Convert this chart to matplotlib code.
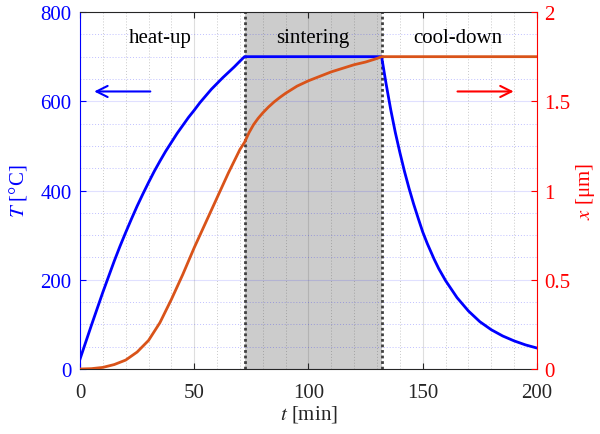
import matplotlib
matplotlib.use("Agg")
import matplotlib.pyplot as plt
from matplotlib.ticker import MultipleLocator

# ---- data ----
t_temp = [0, 2.5, 5, 7.5, 10, 12.5, 15, 17.5, 20, 22.5, 25, 27.5, 30, 32.5, 35, 37.5, 40,
          42.5, 45, 47.5, 50, 52.5, 55, 57.5, 60, 62.5, 65, 67.5, 70, 72,
          132, 134, 136, 138, 140, 142, 144, 146, 148, 150, 152, 155, 157, 160, 165,
          170, 175, 180, 185, 190, 195, 200]
temp = [22, 60, 98, 135, 172, 207, 242, 275, 306, 336, 365, 392, 418, 443, 466, 488, 508,
        528, 546, 564, 580, 597, 612, 627, 640, 653, 665, 677, 690, 700,
        700, 638, 581, 530, 485, 443, 405, 370, 338, 307, 281, 246, 225, 198, 160,
        130, 106, 88, 74, 63, 54, 47]

t_size = [0, 5, 10, 15, 20, 25, 30, 35, 40, 45, 50, 55, 60, 65, 70, 72,
          74, 76, 78, 80, 82.5, 85, 87.5, 90, 95, 100, 105, 110, 115, 120, 125, 130, 132, 200]
size = [0, 0.002, 0.009, 0.025, 0.05, 0.095, 0.16, 0.26, 0.39, 0.53, 0.68, 0.82, 0.96,
        1.10, 1.23, 1.27,
        1.325, 1.37, 1.405, 1.435, 1.468, 1.497, 1.522, 1.545, 1.585, 1.615, 1.64, 1.665,
        1.685, 1.705, 1.72, 1.74, 1.75, 1.75]

phase_bounds = [72, 132]
phase_labels = ["heat-up", "sintering", "cool-down"]
phase_label_t = [35, 102, 165.5]

x_ticks = [0, 50, 100, 150, 200]
T_ticks = [0, 200, 400, 600, 800]
s_ticks = [0, 0.5, 1, 1.5, 2]
s_ticklabels = ["0", "0.5", "1", "1.5", "2"]

# ---- style ----
plt.rcParams["font.family"] = ["Liberation Serif", "DejaVu Serif"]
plt.rcParams["mathtext.fontset"] = "stix"
plt.rcParams["font.size"] = 15

BLUE = (0, 0, 1)
RED = (1, 0, 0)
ORANGE = (0.85, 0.325, 0.098)
DARK = (0.15, 0.15, 0.15)

fig = plt.figure(figsize=(6.0, 4.35), dpi=100)
ax1 = fig.add_axes([0.1333, 0.1494, 0.7617, 0.8206])
ax2 = ax1.twinx()

# shaded sintering phase and dotted boundaries
ax1.axvspan(phase_bounds[0], phase_bounds[1], color=(0.8, 0.8, 0.8), zorder=0.5, lw=0)
for b in phase_bounds:
    ax1.axvline(b, color=(0.25, 0.25, 0.25), ls=(0, (1, 1)), lw=2.0, zorder=1)

ax1.plot(t_temp, temp, color=BLUE, lw=2.0, zorder=3)
ax2.plot(t_size, size, color=ORANGE, lw=2.0, zorder=3)

ax1.set_xlim(0, 200)
ax1.set_ylim(0, 800)
ax2.set_ylim(0, 2)

ax1.set_xticks(x_ticks)
ax1.set_yticks(T_ticks)
ax2.set_yticks(s_ticks)
ax2.set_yticklabels(s_ticklabels)
ax1.xaxis.set_minor_locator(MultipleLocator(10))
ax1.yaxis.set_minor_locator(MultipleLocator(50))

# grids
ax1.set_axisbelow(True)
ax1.grid(which="major", axis="x", color=(0.15, 0.15, 0.15), alpha=0.15, lw=0.8)
ax1.grid(which="major", axis="y", color=BLUE, alpha=0.12, lw=0.8)
ax1.grid(which="minor", axis="x", color=(0.15, 0.15, 0.15), alpha=0.25, lw=0.7, ls=(0, (1, 2)))
ax1.grid(which="minor", axis="y", color=BLUE, alpha=0.25, lw=0.7, ls=(0, (1, 2)))

# ticks
ax1.tick_params(axis="x", which="major", direction="in", length=4, colors=DARK, top=True,
                labelsize=15, pad=10)
ax1.tick_params(axis="y", which="major", direction="in", length=4, colors=BLUE, labelsize=15,
                pad=6)
ax1.tick_params(which="minor", length=0, top=False)
ax2.tick_params(axis="y", which="major", direction="in", length=4, colors=RED, labelsize=15,
                pad=5)

for sp in ["top", "bottom"]:
    ax1.spines[sp].set_color(DARK)
    ax2.spines[sp].set_visible(False)
ax1.spines["left"].set_color(BLUE)
ax2.spines["left"].set_visible(False)
ax2.spines["right"].set_color(RED)
ax1.spines["right"].set_visible(False)

ax1.set_xlabel(r"$t$ [min]", color=DARK, fontsize=15, labelpad=1)
ax1.set_ylabel(r"$T$ [°C]", color=BLUE, fontsize=15, labelpad=8)
ax2.set_ylabel(r"$x$ [μm]", color=RED, fontsize=15, labelpad=3, rotation=90)

for lbl, tt in zip(phase_labels, phase_label_t):
    ax1.text(tt, 744, lbl, ha="center", va="center", fontsize=15, color="black", zorder=4)

# arrows pointing to the relevant axis
ax1.annotate("", xy=(5, 622), xytext=(32, 622),
             arrowprops=dict(arrowstyle="->", color=BLUE, lw=1.5, mutation_scale=20))
ax1.annotate("", xy=(191, 622), xytext=(164, 622),
             arrowprops=dict(arrowstyle="->", color=RED, lw=1.5, mutation_scale=20))

fig.savefig("out.png", dpi=100)
